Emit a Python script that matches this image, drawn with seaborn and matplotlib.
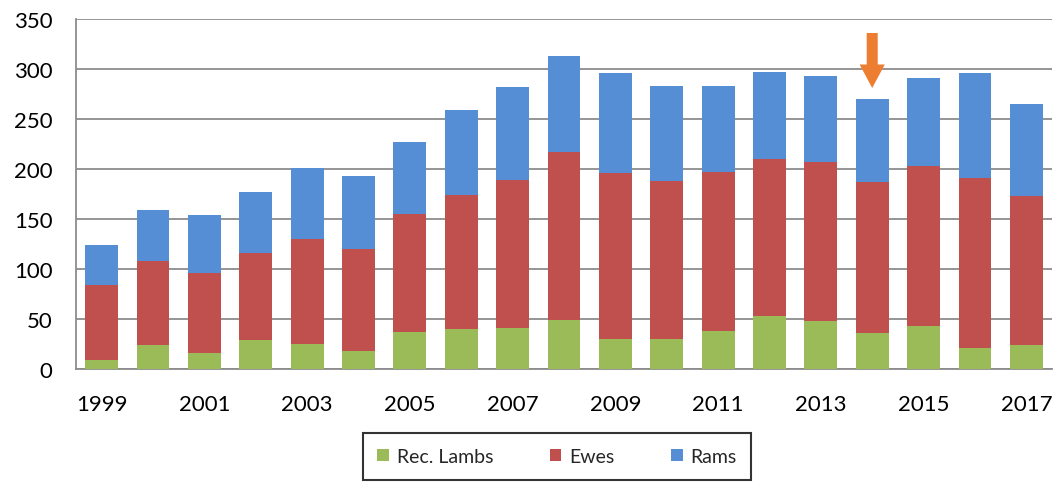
import matplotlib
matplotlib.use("Agg")
import matplotlib.pyplot as plt
import seaborn as sns
import pandas as pd
import numpy as np
from matplotlib.patches import Patch

years = [1999, 2000, 2001, 2002, 2003, 2004, 2005, 2006, 2007, 2008,
         2009, 2010, 2011, 2012, 2013, 2014, 2015, 2016, 2017]
lambs = [9, 24, 16, 29, 25, 18, 37, 40, 41, 49, 30, 30, 38, 53, 48, 36, 43, 21, 24]
ewes = [75, 84, 80, 87, 105, 102, 118, 134, 148, 168, 166, 158, 159, 157, 159, 151, 160, 170, 149]
rams = [40, 51, 58, 61, 71, 73, 72, 85, 93, 96, 100, 95, 86, 87, 86, 83, 88, 105, 92]
series_names = ["Rec. Lambs", "Ewes", "Rams"]
yticks = [0, 50, 100, 150, 200, 250, 300, 350]
xtick_labels = ["1999", "2001", "2003", "2005", "2007", "2009", "2011", "2013", "2015", "2017"]
highlight_year = 2014

colors = {"Rec. Lambs": "#9BBB59", "Ewes": "#C0504D", "Rams": "#558ED5"}

sns.set_theme(style="white")
plt.rcParams["font.family"] = ["Lato", "DejaVu Sans"]

df = pd.DataFrame({"year": [str(y) for y in years],
                   "Rec. Lambs": lambs, "Ewes": ewes, "Rams": rams})
df["top_ewes"] = df["Rec. Lambs"] + df["Ewes"]
df["top_rams"] = df["top_ewes"] + df["Rams"]

fig = plt.figure(figsize=(10.59, 4.85), dpi=100)
ax = fig.add_axes([76 / 1059, 115 / 485, 976 / 1059, 350 / 485])

order = df["year"].tolist()
for col, name in [("top_rams", "Rams"), ("top_ewes", "Ewes"), ("Rec. Lambs", "Rec. Lambs")]:
    sns.barplot(data=df, x="year", y=col, order=order, color=colors[name],
                saturation=1, width=0.64, linewidth=0, ax=ax, zorder=3)

ax.set_ylim(0, 350)
ax.set_xlim(-0.5, len(years) - 0.5)
ax.set_yticks(yticks)
ax.yaxis.grid(True, color="#8C8C8C", linewidth=1.3, zorder=0)
ax.xaxis.grid(False)
ax.set_axisbelow(True)
for s in ["top", "right"]:
    ax.spines[s].set_visible(False)
for s in ["left", "bottom"]:
    ax.spines[s].set_color("#8C8C8C")
    ax.spines[s].set_linewidth(1.3)

tick_pos = [years.index(int(t)) for t in xtick_labels]
ax.set_xticks(tick_pos)
ax.set_xticklabels(xtick_labels)
ax.tick_params(axis="both", length=0, labelsize=16, colors="black")
ax.tick_params(axis="y", pad=17)
ax.tick_params(axis="x", pad=18)
ax.set_xlabel("")
ax.set_ylabel("")

# highlight arrow
hx = years.index(highlight_year)
ax.arrow(hx, 336, 0, -55, width=0.214, head_width=0.49, head_length=23.5,
         length_includes_head=True, color="#ED7D31", linewidth=0, zorder=5)

handles = [Patch(facecolor=colors[n], edgecolor="none") for n in series_names]
leg = fig.legend(handles, series_names, ncol=3, loc="center",
                 bbox_to_anchor=(557 / 1059, 1 - 457.5 / 485),
                 frameon=True, fancybox=False, edgecolor="black",
                 fontsize=14, handlelength=0.6, handleheight=0.6,
                 handletextpad=0.4, columnspacing=2.9,
                 borderpad=0.75, borderaxespad=0)
leg.get_frame().set_linewidth(1.5)

fig.savefig("out.png", dpi=100)
